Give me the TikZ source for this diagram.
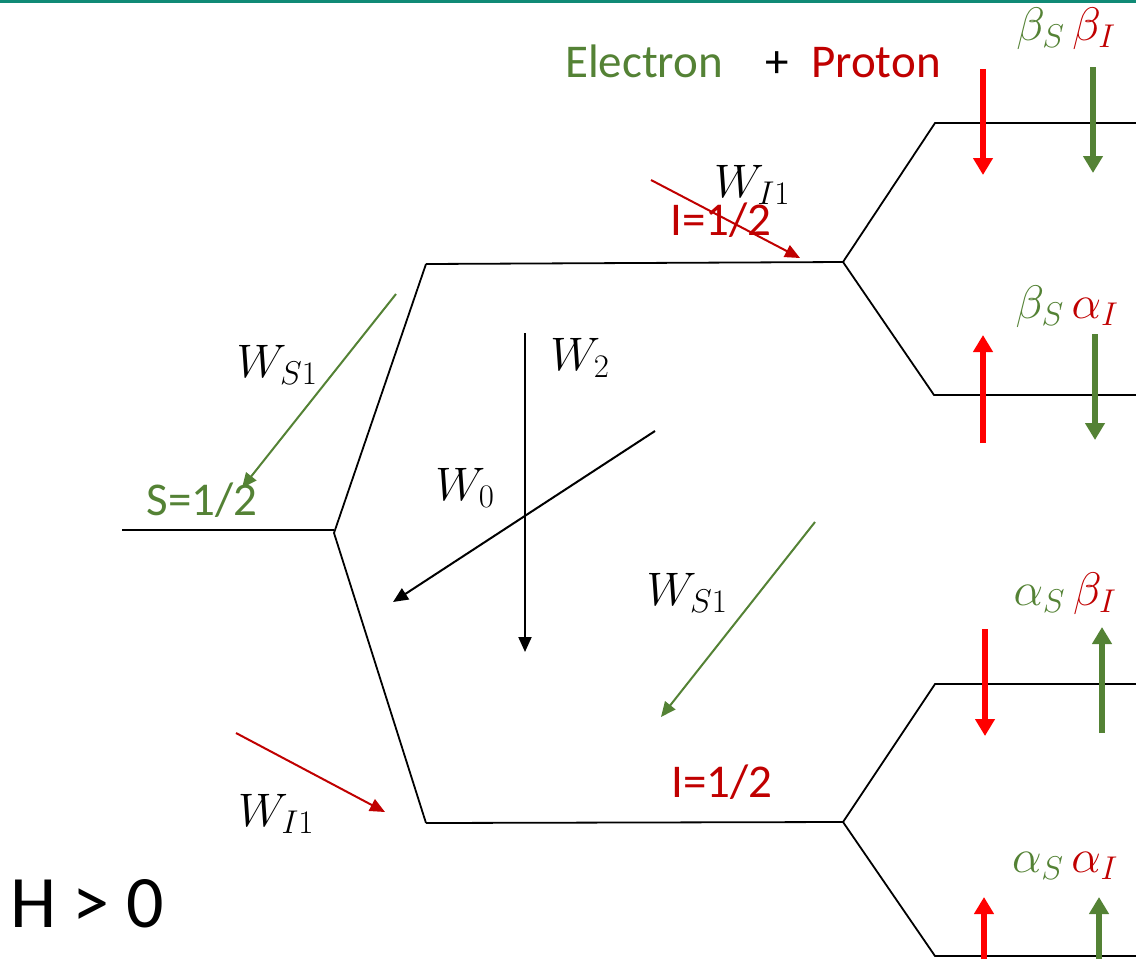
\RequirePackage{fix-cm}
\documentclass[tikz,border=0pt]{standalone}
\usepackage{fontspec}
\setmainfont{Carlito}
\usetikzlibrary{arrows.meta}
\definecolor{grn}{HTML}{548235}
\definecolor{drd}{HTML}{C00000}
\definecolor{brd}{HTML}{FF0000}
\definecolor{tealbar}{RGB}{16,138,118}
\begin{document}
\begin{tikzpicture}[x=1pt,y=-1pt,
  level/.style={line width=1.8pt, line join=miter},
  thinarrow/.style={line width=2pt,-{Triangle[length=15pt,width=13pt]}},
  spin/.style={line width=6.5pt,-{Triangle[length=17pt,width=19pt]}},
  lbl/.style={font=\fontsize{47}{56}\selectfont, inner sep=0pt, anchor=base},
  mlbl/.style={font=\fontsize{47}{56}\selectfont, inner sep=0pt, anchor=base},
  big/.style={font=\fontsize{74}{88}\selectfont, inner sep=0pt, anchor=base},
]
\useasboundingbox (0,0) rectangle (1136,959);
\fill[tealbar] (0,0) rectangle (1136,2.5);

% energy levels
\coordinate (l0) at (122,530);
\coordinate (v0) at (334,533);
\coordinate (u1) at (426,264);
\coordinate (v1) at (843,262);
\coordinate (d1) at (426,823);
\coordinate (v2) at (843,822);
\coordinate (ua) at (935,123);
\coordinate (ub) at (934,395);
\coordinate (uc) at (935,684);
\coordinate (ud) at (935,956);
\coordinate (ea) at (1136,123);
\coordinate (eb) at (1136,395);
\coordinate (ec) at (1136,684);
\coordinate (ed) at (1136,956);

\draw[level] (l0) -- (334,530);
\draw[level] (u1) -- (v0) -- (d1);
\draw[level] (u1) -- (v1);
\draw[level] (d1) -- (v2);
\draw[level] (ea) -- (ua) -- (v1) -- (ub) -- (eb);
\draw[level] (ec) -- (uc) -- (v2) -- (ud) -- (ed);

% transition arrows
\coordinate (ri1s) at (651,180); \coordinate (ri1e) at (800,258);
\coordinate (gs1s) at (396,294); \coordinate (gs1e) at (242,488);
\coordinate (gs2s) at (815,522); \coordinate (gs2e) at (661,717);
\coordinate (ri2s) at (236,733); \coordinate (ri2e) at (385,812);
\coordinate (w2s) at (525,333);  \coordinate (w2e) at (525,652);
\coordinate (w0s) at (655,431);  \coordinate (w0e) at (393,602);
\draw[thinarrow, drd] (ri1s) -- (ri1e);
\draw[thinarrow, grn] (gs1s) -- (gs1e);
\draw[thinarrow, grn] (gs2s) -- (gs2e);
\draw[thinarrow, drd] (ri2s) -- (ri2e);
\draw[thinarrow, black] (w2s) -- (w2e);
\draw[thinarrow, black] (w0s) -- (w0e);

% spin arrows
\coordinate (a1s) at (983,69);   \coordinate (a1e) at (983,175);
\coordinate (b1s) at (1093,67);  \coordinate (b1e) at (1093,173);
\coordinate (a2s) at (983,443);  \coordinate (a2e) at (983,335);
\coordinate (b2s) at (1095,334); \coordinate (b2e) at (1095,440);
\coordinate (a3s) at (985,629);  \coordinate (a3e) at (985,736);
\coordinate (b3s) at (1102,733); \coordinate (b3e) at (1102,627);
\coordinate (a4s) at (984,962);  \coordinate (a4e) at (984,897);
\coordinate (b4s) at (1099,962); \coordinate (b4e) at (1099,897);
\draw[spin, brd] (a1s) -- (a1e);
\draw[spin, grn] (b1s) -- (b1e);
\draw[spin, brd] (a2s) -- (a2e);
\draw[spin, grn] (b2s) -- (b2e);
\draw[spin, brd] (a3s) -- (a3e);
\draw[spin, grn] (b3s) -- (b3e);
\draw[spin, brd] (a4s) -- (a4e);
\draw[spin, grn] (b4s) -- (b4e);

% texts
\node[lbl, text=grn] (electron) at (644,77) {Electron};
\node[lbl] (plus) at (777,77) {+};
\node[lbl, text=drd] (proton) at (876,77) {Proton};

\node[mlbl] (bb) at (1066,40) {$\color{grn}\beta_S\,\color{drd}\beta_I$};
\node[mlbl] (ba) at (1067,318) {$\color{grn}\beta_S\,\color{drd}\alpha_I$};
\node[mlbl] (ab) at (1065,605) {$\color{grn}\alpha_S\,\color{drd}\beta_I$};
\node[mlbl] (aa) at (1065,872) {$\color{grn}\alpha_S\,\color{drd}\alpha_I$};

\node[mlbl] (wi1a) at (752,197) {$W_{I1}$};
\node[lbl, text=drd] (ihalfa) at (721,235) {I=1/2};
\node[mlbl] (ws1a) at (277,377) {$W_{S1}$};
\node[lbl, text=grn] (shalf) at (202,515) {S=1/2};
\node[mlbl] (w2) at (580,370) {$W_2$};
\node[mlbl] (w0) at (465,500) {$W_0$};
\node[mlbl] (ws1b) at (687,605) {$W_{S1}$};
\node[lbl, text=drd] (ihalfb) at (722,797) {I=1/2};
\node[mlbl] (wi1b) at (276,826) {$W_{I1}$};
\node[big] (h) at (87,927) {H > 0};
\end{tikzpicture}
\end{document}
